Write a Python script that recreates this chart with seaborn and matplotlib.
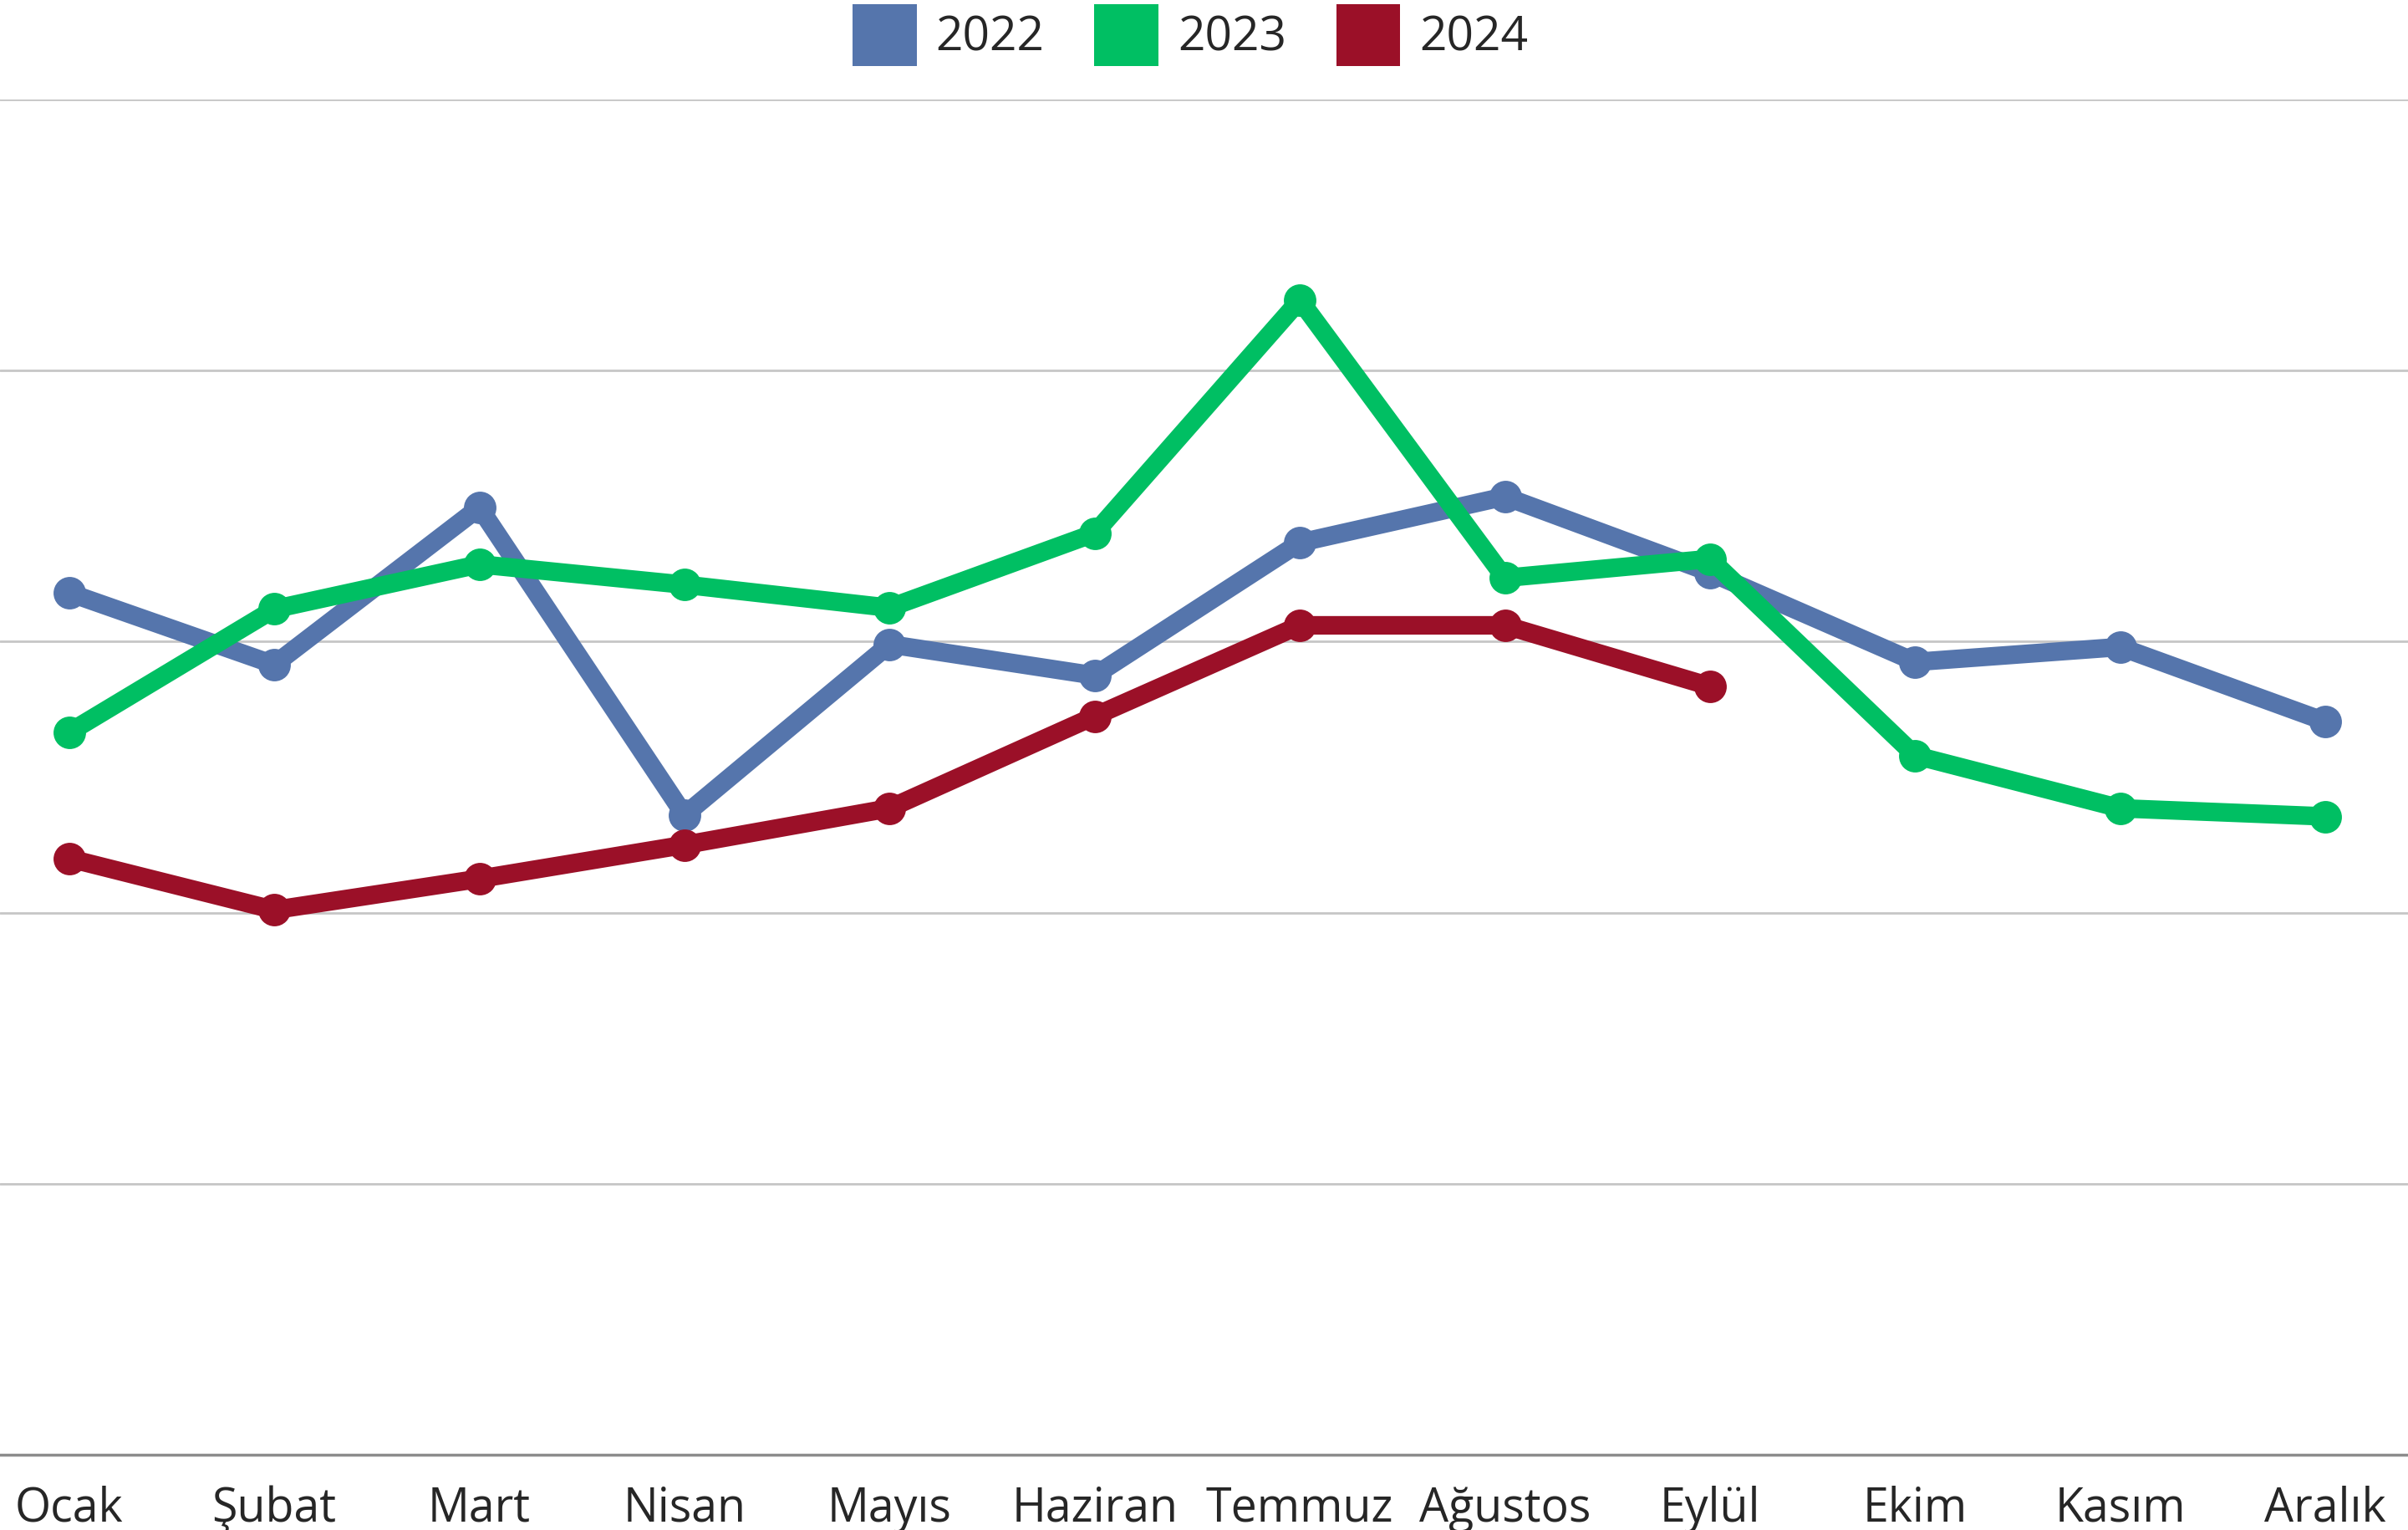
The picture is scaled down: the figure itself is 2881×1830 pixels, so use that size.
import matplotlib

matplotlib.use("Agg")
import matplotlib.pyplot as plt
import numpy as np
import pandas as pd
import seaborn as sns
from matplotlib.patches import Patch

months = ["Ocak", "Şubat", "Mart", "Nisan", "Mayıs", "Haziran",
          "Temmuz", "Ağustos", "Eylül", "Ekim", "Kasım", "Aralık"]
years = ["2022", "2023", "2024"]

values_2022 = [63.6, 58.3, 69.9, 47.2, 59.8, 57.5, 67.3, 70.7, 65.1, 58.5, 59.6, 54.1]
values_2023 = [53.3, 62.4, 65.7, 64.2, 62.5, 68.0, 85.2, 64.7, 66.1, 51.6, 47.7, 47.1]
values_2024 = [44.0, 40.2, 42.5, 45.0, 47.7, 54.5, 61.2, 61.2, 56.7, np.nan, np.nan, np.nan]

colors = {"2022": "#5575AC", "2023": "#00BF63", "2024": "#9B1028"}

df = pd.DataFrame({
    "month": months * 3,
    "year": ["2022"] * 12 + ["2023"] * 12 + ["2024"] * 12,
    "value": values_2022 + values_2023 + values_2024,
}).dropna()

sns.set_style("white")
plt.rcParams["font.family"] = ["Open Sans", "DejaVu Sans"]

fig = plt.figure(figsize=(28.81, 18.30), dpi=100)
ax = fig.add_axes([0.0, 1 - 1740 / 1830, 1.0, (1740 - 119) / 1830])

sns.lineplot(
    data=df, x="month", y="value", hue="year", hue_order=years,
    palette=colors, marker="o", markersize=28, markeredgewidth=0,
    linewidth=16, sort=False, ax=ax, legend=False, zorder=3,
)

ax.set_xlim(-0.337, 11.403)
ax.set_ylim(0, 100)
ax.set_yticks([0, 20, 40, 60, 80, 100])
ax.yaxis.grid(True, color="#C6C6C6", linewidth=2)
ax.xaxis.grid(False)
ax.set_axisbelow(True)
ax.tick_params(axis="y", left=False, labelleft=False)
ax.tick_params(axis="x", bottom=False, labelsize=40, pad=23)
ax.set_xticks(range(len(months)))
ax.set_xticklabels(months)
ax.set_xlabel("")
ax.set_ylabel("")
for side in ["top", "left", "right"]:
    ax.spines[side].set_visible(False)
ax.spines["bottom"].set_color("#8C8C8C")
ax.spines["bottom"].set_linewidth(2.5)

handles = [Patch(facecolor=colors[y], edgecolor="none", label=y) for y in years]
fig.legend(
    handles=handles, loc="center", bbox_to_anchor=(1424 / 2881, 1 - 42 / 1830),
    ncol=3, frameon=False, fontsize=41, handlelength=1.35, handleheight=1.63,
    handletextpad=0.4, columnspacing=1.05, borderaxespad=0,
)

fig.savefig("out.png", dpi=100)
